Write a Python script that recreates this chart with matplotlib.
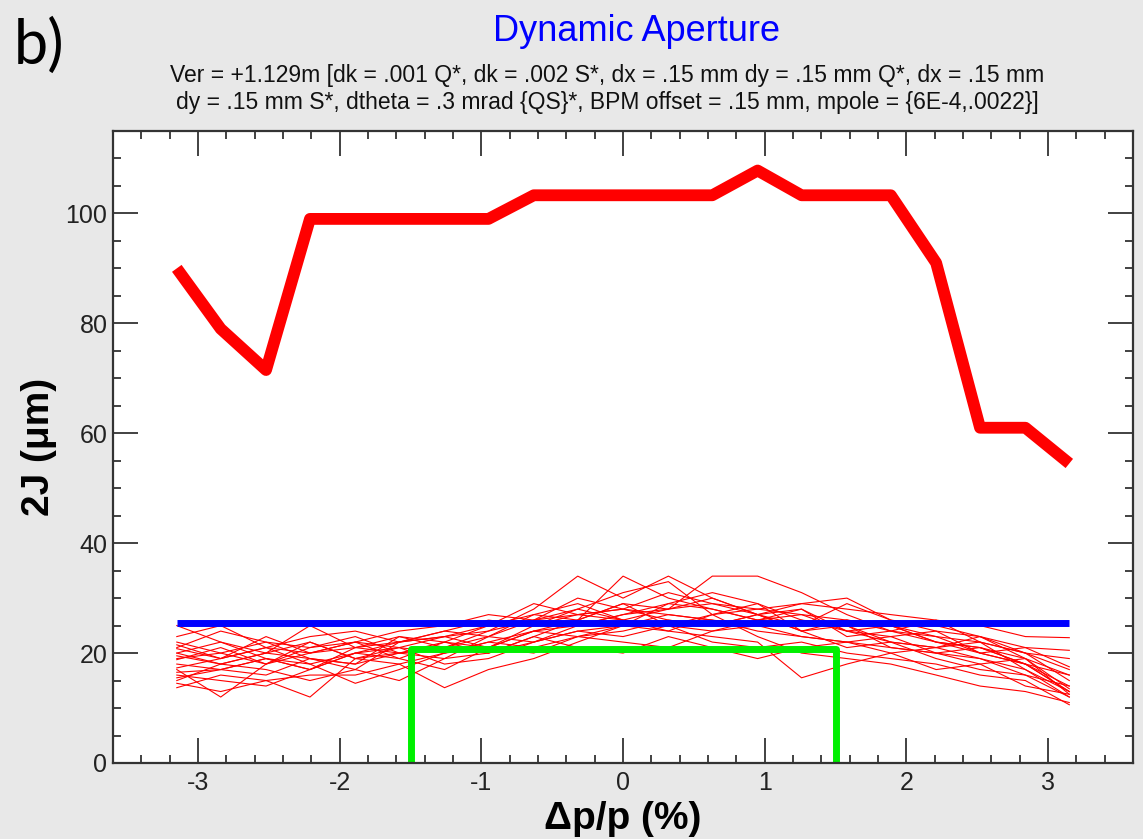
import numpy as np
import matplotlib.pyplot as plt
from matplotlib.ticker import MultipleLocator

# momentum offsets (%) used by every curve
dpp = [-3.15, -2.84, -2.52, -2.21, -1.89, -1.58, -1.26, -0.95, -0.63, -0.32, 0.0,
       0.32, 0.63, 0.95, 1.26, 1.58, 1.89, 2.21, 2.52, 2.84, 3.15]

# ideal lattice dynamic aperture (thick red)
da_ideal = [90, 79, 71.5, 99, 99, 99, 99, 99, 103.3, 103.3, 103.3,
            103.3, 103.3, 107.8, 103.3, 103.3, 103.3, 91, 61, 61, 54.5]

# seeds with errors (thin red)
seeds = [
    [25, 22, 20, 25, 21, 22, 23, 24, 26, 27, 28, 27, 26, 25, 26, 24, 25, 23, 22, 20, 17],
    [20.8, 19, 21, 20, 22, 21, 23, 25, 27, 26, 29, 28, 29, 27, 25, 26, 24, 22, 21, 19, 16],
    [18.8, 21, 18, 22, 19, 21, 20, 22, 24, 25, 27, 29, 28, 26, 27, 24, 23, 24, 20, 18, 14],
    [17.3, 19, 21, 18, 20, 19, 22, 21, 25, 28, 26, 25, 27, 29, 26, 25, 22, 21, 22, 17, 13],
    [15.5, 17, 16, 19, 18, 20, 19, 23, 22, 24, 25, 27, 26, 24, 23, 22, 21, 20, 18, 19, 12.5],
    [13.7, 16, 15, 12, 19, 18, 20, 21, 20, 23, 24, 26, 25, 27, 24, 21, 22, 19, 17, 16, 12],
    [20, 18, 20, 19, 17, 22, 24, 23, 26, 30, 28, 31, 29, 28, 27, 26, 25, 22, 21, 18, 13],
    [19, 20, 22, 21, 23, 20, 21, 24, 28, 34, 30, 34, 30, 27, 28, 23, 24, 26, 22, 20, 15],
    [16, 15, 14, 17, 20, 21, 18, 19, 22, 25, 27, 28, 34, 34, 31, 27, 24, 23, 20, 18, 13],
    [21, 24, 22, 19, 18, 23, 22, 20, 23, 26, 34, 30, 28, 26, 25, 29, 26, 24, 23, 21, 17.5],
    [14.5, 13, 15, 16, 16, 18, 13.7, 17, 19, 22, 25, 24, 27, 23, 20, 19, 18, 16, 14, 13, 11],
    [18, 17, 19, 17, 21, 20, 22, 25, 29, 27, 26, 24, 23, 22, 15.5, 18, 20, 21, 19, 17, 12],
    [22, 20, 18, 21, 22, 24, 25, 27, 26, 28, 31, 33, 27, 28, 29, 30, 26, 25, 23, 20, 19],
    [19.5, 18, 20, 22, 19, 20, 21, 20, 22, 24, 23, 25, 22, 21, 22, 20, 19, 18, 16, 15, 10.6],
    [17, 12, 18, 20, 22, 19, 17, 21, 24, 23, 22, 21, 24, 25, 23, 22, 20, 17, 18, 14, 12.5],
    [23, 25, 21, 23, 24, 22, 24, 26, 25, 27, 28, 26, 25, 27, 29, 28, 27, 26, 25, 23, 22.8],
    [15, 18, 17, 15, 17, 15, 19, 20, 23, 21, 20, 23, 21, 19, 21, 22, 23, 20, 19, 16, 14],
    [21.5, 19, 23, 20, 21, 23, 21, 23, 27, 29, 26, 28, 30, 27, 24, 25, 21, 20, 21, 18, 16],
    [16.5, 17, 19, 18, 14.5, 17, 20, 22, 21, 23, 25, 29, 31, 29, 24, 26, 25, 22, 20, 21, 20.5],
    [20, 22, 19, 17, 20, 22, 23, 21, 24, 26, 29, 25, 24, 26, 28, 24, 22, 21, 23, 19, 13.5],
]

# beam requirement lines
req_x = [-3.15, 3.15]
req_y = [25.5, 25.5]
box_x = [-1.5, -1.5, 1.5, 1.5]
box_y = [0, 20.8, 20.8, 0]

plt.rcParams['font.family'] = ['Liberation Sans', 'DejaVu Sans']
plt.rcParams['axes.unicode_minus'] = False

fig = plt.figure(figsize=(11.43, 8.39), dpi=100, facecolor='#e8e8e8')
ax = fig.add_axes([0.0989, 0.0906, 0.8924, 0.7533])
ax.set_facecolor('white')

for s in seeds:
    ax.plot(dpp, s, color='red', lw=0.8)
ax.plot(req_x, req_y, color='#0000ff', lw=5, solid_capstyle='butt')
ax.plot(box_x, box_y, color='#00f000', lw=5, solid_capstyle='butt')
ax.plot(dpp, da_ideal, color='red', lw=8.5, solid_capstyle='butt')

ax.set_xlim(-3.6, 3.6)
ax.set_ylim(0, 115)
ax.xaxis.set_major_locator(MultipleLocator(1))
ax.xaxis.set_minor_locator(MultipleLocator(0.2))
ax.yaxis.set_major_locator(MultipleLocator(20))
ax.yaxis.set_minor_locator(MultipleLocator(5))
ax.tick_params(which='both', direction='in', top=True, right=True,
               color='#333333', width=1.3, labelsize=18, labelcolor='#222222')
ax.tick_params(which='major', length=18)
ax.tick_params(which='minor', length=6)
ax.tick_params(axis='y', pad=4)
ax.tick_params(axis='x', pad=6)
for sp in ax.spines.values():
    sp.set_linewidth(1.6)
    sp.set_color('#333333')

ax.set_xlabel('Δp/p (%)', fontsize=28, fontweight='bold', labelpad=4)
ax.set_ylabel('2J (μm)', fontsize=28, fontweight='bold', labelpad=6)

fig.text(0.557, 0.963, 'Dynamic Aperture', color='#0000ff', fontsize=26,
         ha='center', va='center')
fig.text(0.531, 0.894,
         'Ver = +1.129m [dk = .001 Q*, dk = .002 S*, dx = .15 mm dy = .15 mm Q*, dx = .15 mm\n'
         'dy = .15 mm S*, dtheta = .3 mrad {QS}*, BPM offset = .15 mm, mpole = {6E-4,.0022}]',
         fontsize=16.5, ha='center', va='center', linespacing=1.2, color='#111111')
fig.text(0.012, 0.945, 'b)', fontsize=44, family=['Lato', 'DejaVu Sans'],
         ha='left', va='center', color='black')

fig.savefig('out.png', dpi=100, facecolor=fig.get_facecolor())
